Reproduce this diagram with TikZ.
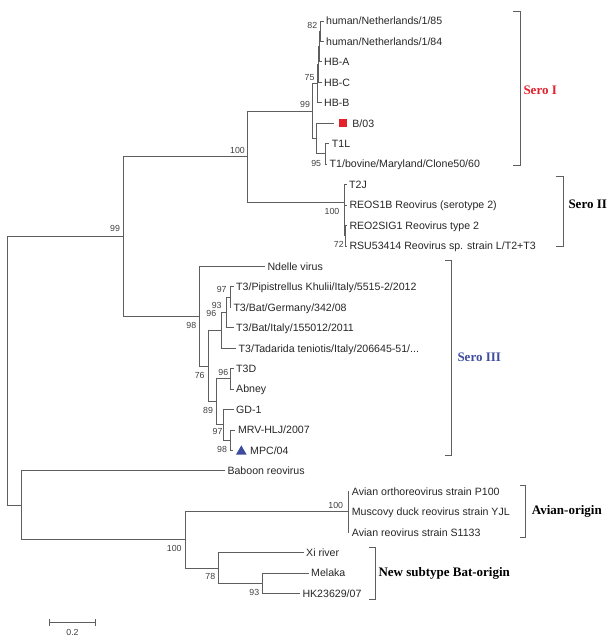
\documentclass[tikz,border=0pt]{standalone}
\usepackage{fontspec}
\setmainfont{Liberation Sans}
\newfontfamily\grpfont{Liberation Serif}
\usetikzlibrary{positioning,shapes.geometric}

\definecolor{treegray}{HTML}{5E5E5E}
\definecolor{serored}{HTML}{E2212B}
\definecolor{seroblue}{HTML}{3D4C9E}

\begin{document}
\begin{tikzpicture}[x=1pt,y=-1pt,
  branch/.style={draw=treegray,line width=0.9pt},
  leaf/.style={anchor=west,inner xsep=2.5pt,inner ysep=0pt,text height=7.6pt,text depth=0pt,
    font=\fontsize{10.6}{12}\selectfont,text=black!85},
  boot/.style={inner sep=0pt,font=\fontsize{8.8}{10}\selectfont,text=black!75},
  bracket/.style={draw=treegray,line width=0.9pt},
  grp/.style={anchor=west,inner sep=0pt,font=\grpfont\bfseries\fontsize{13}{15}\selectfont}]
\useasboundingbox (0,0) rectangle (613,642);

\node[leaf] (h85) at (323.5,21) {human/Netherlands/1/85};
\node[leaf] (h84) at (323.5,41.45) {human/Netherlands/1/84};
\node[leaf] (hba) at (321.5,61.9) {HB-A};
\node[leaf] (hbc) at (321.5,82.35) {HB-C};
\node[leaf] (hbb) at (321.5,102.8) {HB-B};
\coordinate (tipb) at (334,123.25);
\node[fill=serored,minimum size=8pt,inner sep=0pt] (sqb) at (343,123.25) {};
\node[leaf,right=2.5pt of sqb] (b03) {B/03};
\node[leaf] (t1l) at (329.2,143.7) {T1L};
\node[leaf] (t1b) at (327,164.15) {T1/bovine/Maryland/Clone50/60};
\node[leaf] (t2j) at (346.5,184.6) {T2J};
\node[leaf] (reos) at (346.8,205.05) {REOS1B Reovirus (serotype 2)};
\node[leaf] (reo2) at (346.8,225.5) {REO2SIG1 Reovirus type 2};
\node[leaf] (rsu) at (346.8,245.95) {RSU53414 Reovirus sp. strain L/T2+T3};
\node[leaf] (ndel) at (264.8,266.4) {Ndelle virus};
\node[leaf] (pip) at (233.5,286.85) {T3/Pipistrellus Khulii/Italy/5515-2/2012};
\node[leaf] (bger) at (230.8,307.3) {T3/Bat/Germany/342/08};
\node[leaf] (bita) at (233.5,327.75) {T3/Bat/Italy/155012/2011};
\node[leaf] (tada) at (236,348.2) {T3/Tadarida teniotis/Italy/206645-51/...};
\node[leaf] (t3d) at (233.5,368.65) {T3D};
\node[leaf] (abney) at (233.5,389.1) {Abney};
\node[leaf] (gd1) at (233.5,409.55) {GD-1};
\node[leaf] (mrv) at (235.3,430) {MRV-HLJ/2007};
\coordinate (tipm) at (233.3,450.45);
\node[fill=seroblue,regular polygon,regular polygon sides=3,minimum size=12.4pt,inner sep=0pt] (trim) at (241.3,451.6) {};
\node[leaf] (mpc) at (247.5,450.45) {MPC/04};
\node[leaf] (baboon) at (224.8,470.9) {Baboon reovirus};
\node[leaf] (p100) at (349.2,491.35) {Avian orthoreovirus strain P100};
\node[leaf] (yjl) at (349.2,511.8) {Muscovy duck reovirus strain YJL};
\node[leaf] (s1133) at (349.2,532.25) {Avian reovirus strain S1133};
\node[leaf] (xi) at (303.5,552.7) {Xi river};
\node[leaf] (melaka) at (308.5,573.15) {Melaka};
\node[leaf] (hk) at (299.8,593.6) {HK23629/07};

\coordinate (root) at (7.3,370.97);
\coordinate (na) at (123.3,236.53);
\coordinate (nb) at (21,505.41);
\coordinate (nc) at (247.7,156.8);
\coordinate (ns1) at (312.3,111.11);
\coordinate (n75) at (317,83.63);
\coordinate (nx) at (318,64.46);
\coordinate (ny) at (319,46.56);
\coordinate (n82) at (320.7,31.23);
\coordinate (nbt) at (316.7,138.59);
\coordinate (n95) at (325.7,153.93);
\coordinate (ns2) at (344.3,202.5);
\coordinate (nz) at (344.8,220.39);
\coordinate (nw) at (345.3,235.73);
\coordinate (ns3) at (199.3,316.25);
\coordinate (n76) at (208,366.1);
\coordinate (n96a) at (221.7,330.31);
\coordinate (n93a) at (226.7,312.41);
\coordinate (n97a) at (230,297.08);
\coordinate (n89) at (216.7,401.88);
\coordinate (n96b) at (230,378.88);
\coordinate (n97b) at (223,424.89);
\coordinate (n98) at (230,440.23);
\coordinate (nav) at (185,539.92);
\coordinate (navian) at (348.3,511.8);
\coordinate (n78) at (218.3,568.04);
\coordinate (n93b) at (262.7,583.38);

\draw[branch] (root) |- (na);
\draw[branch] (root) |- (nb);
\draw[branch] (na) |- (nc);
\draw[branch] (na) |- (ns3);
\draw[branch] (nc) |- (ns1);
\draw[branch] (nc) |- (ns2);
\draw[branch] (ns1) |- (n75);
\draw[branch] (ns1) |- (nbt);
\draw[branch] (n75) |- (nx);
\draw[branch] (n75) |- (hbb.west);
\draw[branch] (nx) |- (ny);
\draw[branch] (nx) |- (hbc.west);
\draw[branch] (ny) |- (n82);
\draw[branch] (ny) |- (hba.west);
\draw[branch] (n82) |- (h85.west);
\draw[branch] (n82) |- (h84.west);
\draw[branch] (nbt) |- (tipb);
\draw[branch] (nbt) |- (n95);
\draw[branch] (n95) |- (t1l.west);
\draw[branch] (n95) |- (t1b.west);
\draw[branch] (ns2) |- (t2j.west);
\draw[branch] (ns2) |- (nz);
\draw[branch] (nz) |- (reos.west);
\draw[branch] (nz) |- (nw);
\draw[branch] (nw) |- (reo2.west);
\draw[branch] (nw) |- (rsu.west);
\draw[branch] (ns3) |- (ndel.west);
\draw[branch] (ns3) |- (n76);
\draw[branch] (n76) |- (n96a);
\draw[branch] (n76) |- (n89);
\draw[branch] (n96a) |- (n93a);
\draw[branch] (n96a) |- (tada.west);
\draw[branch] (n93a) |- (n97a);
\draw[branch] (n93a) |- (bita.west);
\draw[branch] (n97a) |- (pip.west);
\draw[branch] (n97a) |- (bger.west);
\draw[branch] (n89) |- (n96b);
\draw[branch] (n89) |- (n97b);
\draw[branch] (n96b) |- (t3d.west);
\draw[branch] (n96b) |- (abney.west);
\draw[branch] (n97b) |- (gd1.west);
\draw[branch] (n97b) |- (n98);
\draw[branch] (n98) |- (mrv.west);
\draw[branch] (n98) |- (tipm);
\draw[branch] (nb) |- (baboon.west);
\draw[branch] (nb) |- (nav);
\draw[branch] (nav) |- (navian);
\draw[branch] (nav) |- (n78);
\draw[branch] (navian) |- (p100.west);
\draw[branch] (navian) |- (yjl.west);
\draw[branch] (navian) |- (s1133.west);
\draw[branch] (n78) |- (xi.west);
\draw[branch] (n78) |- (n93b);
\draw[branch] (n93b) |- (melaka.west);
\draw[branch] (n93b) |- (hk.west);

\node[boot] (b82) at (312.3,25) {82};
\node[boot] (b75) at (309.5,78) {75};
\node[boot] (b99s) at (305,104.5) {99};
\node[boot] (b95) at (316.2,163.3) {95};
\node[boot] (b100c) at (237.5,150) {100};
\node[boot] (b100s) at (332,211.8) {100};
\node[boot] (b72) at (338.8,244.2) {72};
\node[boot] (b99a) at (115,228.5) {99};
\node[boot] (b98s) at (191.3,325.2) {98};
\node[boot] (b76) at (199.7,375) {76};
\node[boot] (b96a) at (211.3,313.8) {96};
\node[boot] (b93a) at (216.7,305.5) {93};
\node[boot] (b97a) at (221.7,289.2) {97};
\node[boot] (b96b) at (223.3,372.8) {96};
\node[boot] (b89) at (208,410.8) {89};
\node[boot] (b97b) at (217.5,431.5) {97};
\node[boot] (b98) at (222,449.2) {98};
\node[boot] (b100a) at (335.8,505.3) {100};
\node[boot] (b100v) at (174.2,548.2) {100};
\node[boot] (b78) at (210.3,576.2) {78};
\node[boot] (b93b) at (254.3,592.5) {93};

\coordinate (s1top) at (513,11.7);
\coordinate (s1bot) at (513,165.7);
\draw[bracket] (s1top) -- ++(7,0) |- (s1bot);
\node[grp,text=serored] (sero1) at (523.3,90) {Sero I};
\coordinate (s2top) at (556,176.7);
\coordinate (s2bot) at (556,246.7);
\draw[bracket] (s2top) -- ++(7,0) |- (s2bot);
\node[grp] (sero2) at (568.3,204.5) {Sero II};
\coordinate (s3top) at (445,260);
\coordinate (s3bot) at (445,455);
\draw[bracket] (s3top) -- ++(6.7,0) |- (s3bot);
\node[grp,text=seroblue] (sero3) at (457.3,357.3) {Sero III};
\coordinate (avtop) at (519.7,485);
\coordinate (avbot) at (519.7,537.3);
\draw[bracket] (avtop) -- ++(6,0) |- (avbot);
\node[grp] (avlab) at (531.7,511.7) {Avian-origin};
\coordinate (battop) at (369,547.7);
\coordinate (batbot) at (369,599);
\draw[bracket] (battop) -- ++(6,0) |- (batbot);
\node[grp] (batlab) at (378.3,573.3) {New subtype Bat-origin};

\coordinate (sbl) at (49.3,622.7);
\coordinate (sbr) at (95,622.7);
\draw[branch] (sbl) -- (sbr);
\draw[branch] ([yshift=3.5pt]sbl) -- ([yshift=-3.5pt]sbl);
\draw[branch] ([yshift=3.5pt]sbr) -- ([yshift=-3.5pt]sbr);
\node[boot] (sblab) at (72.5,632.5) {0.2};
\end{tikzpicture}
\end{document}
